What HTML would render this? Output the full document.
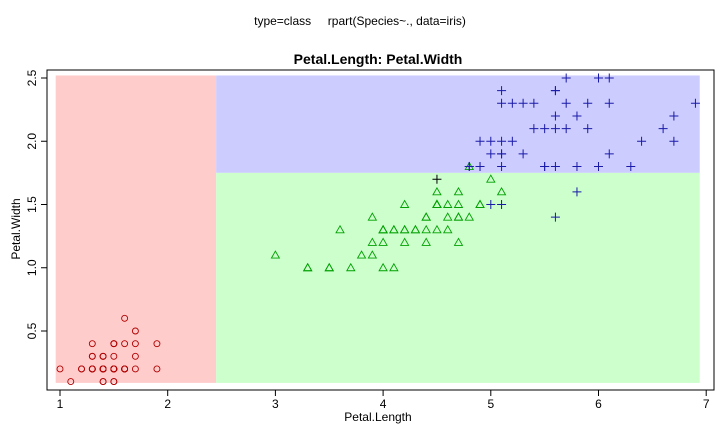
<!DOCTYPE html>
<html><head><meta charset="utf-8"><style>
body{margin:0;background:#fff;width:720px;height:432px;overflow:hidden}
svg text{font-family:"Liberation Sans",sans-serif}
</style></head><body>
<svg id="c" width="720" height="432">
<text x="360" y="25" text-anchor="middle" font-size="12" style="white-space:pre">type=class     rpart(Species~., data=iris)</text>
<text x="378" y="64" text-anchor="middle" font-size="14" font-weight="bold">Petal.Length: Petal.Width</text>
<g id="regions"></g><g id="pts"></g><g id="axes"></g>
<text x="378" y="421" text-anchor="middle" font-size="12">Petal.Length</text>
<text transform="translate(20,229) rotate(-90)" text-anchor="middle" font-size="12">Petal.Width</text>
</svg>
<script>
const setosaPL=[1.4,1.4,1.3,1.5,1.4,1.7,1.4,1.5,1.4,1.5,1.5,1.6,1.4,1.1,1.2,1.5,1.3,1.4,1.7,1.5,1.7,1.5,1.0,1.7,1.9,1.6,1.6,1.5,1.4,1.6,1.6,1.5,1.5,1.4,1.5,1.2,1.3,1.4,1.3,1.5,1.3,1.3,1.3,1.6,1.9,1.4,1.6,1.4,1.5,1.4];
const setosaPW=[0.2,0.2,0.2,0.2,0.2,0.4,0.3,0.2,0.2,0.1,0.2,0.2,0.1,0.1,0.2,0.4,0.4,0.3,0.3,0.3,0.2,0.4,0.2,0.5,0.2,0.2,0.4,0.2,0.2,0.2,0.2,0.4,0.1,0.2,0.2,0.2,0.2,0.1,0.2,0.2,0.3,0.3,0.2,0.6,0.4,0.3,0.2,0.2,0.2,0.2];
const versiPL=[4.7,4.5,4.9,4.0,4.6,4.5,4.7,3.3,4.6,3.9,3.5,4.2,4.0,4.7,3.6,4.4,4.5,4.1,4.5,3.9,4.8,4.0,4.9,4.7,4.3,4.4,4.8,5.0,4.5,3.5,3.8,3.7,3.9,5.1,4.5,4.5,4.7,4.4,4.1,4.0,4.4,4.6,4.0,3.3,4.2,4.2,4.2,4.3,3.0,4.1];
const versiPW=[1.4,1.5,1.5,1.3,1.5,1.3,1.6,1.0,1.3,1.4,1.0,1.5,1.0,1.4,1.3,1.4,1.5,1.0,1.5,1.1,1.8,1.3,1.5,1.2,1.3,1.4,1.4,1.7,1.5,1.0,1.1,1.0,1.2,1.6,1.5,1.6,1.5,1.3,1.3,1.3,1.2,1.4,1.2,1.0,1.3,1.2,1.3,1.3,1.1,1.3];
const virgPL=[6.0,5.1,5.9,5.6,5.8,6.6,4.5,6.3,5.8,6.1,5.1,5.3,5.5,5.0,5.1,5.3,5.5,6.7,6.9,5.0,5.7,4.9,6.7,4.9,5.7,6.0,4.8,4.9,5.6,5.8,6.1,6.4,5.6,5.1,5.6,6.1,5.6,5.5,4.8,5.4,5.6,5.1,5.1,5.9,5.7,5.2,5.0,5.2,5.4,5.1];
const virgPW=[2.5,1.9,2.1,1.8,2.2,2.1,1.7,1.8,1.8,2.5,2.0,1.9,2.1,2.0,2.4,2.3,1.8,2.2,2.3,1.5,2.3,2.0,2.0,1.8,2.1,1.8,1.8,1.8,2.1,1.6,1.9,2.0,2.2,1.5,1.4,2.3,2.4,1.8,1.8,2.1,2.4,2.3,1.9,2.3,2.5,2.3,1.9,2.0,2.3,1.8];
const xTicks=[1,2,3,4,5,6,7];
const yTicks=[0.5,1.0,1.5,2.0,2.5];
const splitPL=2.45, splitPW=1.75;
const NS='http://www.w3.org/2000/svg';
const X=v=>60+(v-1)*107.7, Y=v=>78+(2.5-v)*126.5;
function mk(t,a,p){const e=document.createElementNS(NS,t);for(const k in a)e.setAttribute(k,a[k]);p.appendChild(e);return e;}
const R=document.getElementById('regions'),P=document.getElementById('pts'),A=document.getElementById('axes');
const xl=0.96,xr=6.94,yt=2.52,yb=0.09;
let r=mk('rect',{x:X(xl),y:Y(yt),width:X(splitPL)-X(xl),height:Y(yb)-Y(yt),fill:'#ffcccc'},R);

r=mk('rect',{x:X(splitPL),y:Y(yt),width:X(xr)-X(splitPL),height:Y(splitPW)-Y(yt),fill:'#ccccff'},R);

r=mk('rect',{x:X(splitPL),y:Y(splitPW),width:X(xr)-X(splitPL),height:Y(yb)-Y(splitPW),fill:'#ccffcc'},R);

setosaPL.forEach((v,i)=>{const e=mk('circle',{cx:X(v),cy:Y(setosaPW[i]),r:3,fill:'none',stroke:'#b00000','stroke-width':0.9},P);

});
versiPL.forEach((v,i)=>{const x=X(v),y=Y(versiPW[i]);const e=mk('polygon',{points:`${x},${y-4} ${x-4},${y+3} ${x+4},${y+3}`,fill:'none',stroke:'#00a000','stroke-width':0.9},P);

});
virgPL.forEach((v,i)=>{const x=X(v),y=Y(virgPW[i]);const c=(virgPW[i]<splitPW&&v<4.7)?'#000':'#1a1aa8';const e=mk('path',{d:`M${x-4.5},${y}H${x+4.5}M${x},${y-4.5}V${y+4.5}`,stroke:c,'stroke-width':1},P);

});
const bx=mk('rect',{x:47,y:70,width:667,height:320,fill:'none',stroke:'#000','stroke-width':1},A);

xTicks.forEach(t=>{mk('line',{x1:X(t),x2:X(t),y1:390,y2:396,stroke:'#000'},A);
const e=mk('text',{x:X(t),y:408,'text-anchor':'middle','font-size':12},A);e.textContent=t;

});
yTicks.forEach(t=>{mk('line',{x1:41,x2:47,y1:Y(t),y2:Y(t),stroke:'#000'},A);
const e=mk('text',{transform:`translate(36,${Y(t)}) rotate(-90)`,'text-anchor':'middle','font-size':12},A);e.textContent=t.toFixed(1);

});
</script>
</body></html>
